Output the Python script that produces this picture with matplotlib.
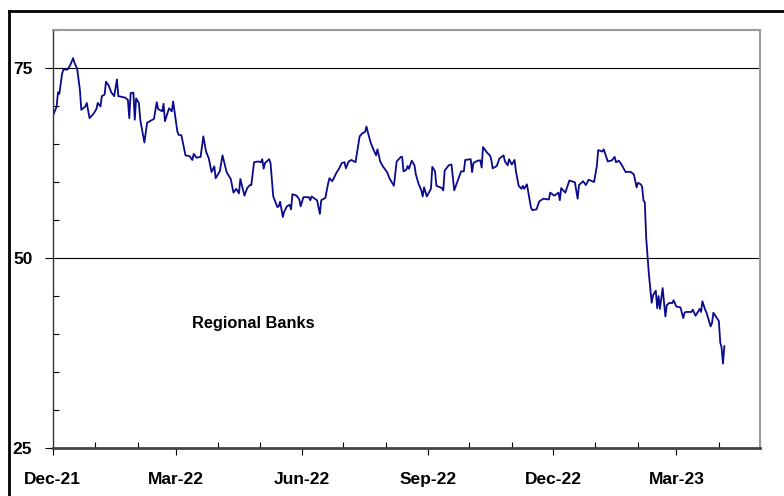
import datetime as dt

import matplotlib
matplotlib.use("Agg")
import matplotlib.pyplot as plt
import matplotlib.dates as mdates
from matplotlib.lines import Line2D
from matplotlib.ticker import MultipleLocator

plt.rcParams['font.family'] = ['Liberation Sans', 'DejaVu Sans']

# index level
dates = [
  "2021-12-01", "2021-12-04", "2021-12-05", "2021-12-06", "2021-12-08", "2021-12-09",
  "2021-12-12", "2021-12-14", "2021-12-16", "2021-12-17", "2021-12-19", "2021-12-21",
  "2021-12-22", "2021-12-25", "2021-12-26", "2021-12-28", "2021-12-31", "2022-01-02",
  "2022-01-03", "2022-01-05", "2022-01-06", "2022-01-08", "2022-01-09", "2022-01-11",
  "2022-01-13", "2022-01-15", "2022-01-17", "2022-01-18", "2022-01-23", "2022-01-25",
  "2022-01-26", "2022-01-27", "2022-01-29", "2022-01-30", "2022-01-31", "2022-02-02",
  "2022-02-03", "2022-02-06", "2022-02-08", "2022-02-10", "2022-02-13", "2022-02-15",
  "2022-02-16", "2022-02-19", "2022-02-20", "2022-02-21", "2022-02-24", "2022-02-26",
  "2022-02-27", "2022-03-02", "2022-03-03", "2022-03-05", "2022-03-08", "2022-03-11",
  "2022-03-13", "2022-03-14", "2022-03-16", "2022-03-19", "2022-03-21", "2022-03-23",
  "2022-03-25", "2022-03-27", "2022-03-29", "2022-03-30", "2022-04-02", "2022-04-04",
  "2022-04-07", "2022-04-10", "2022-04-12", "2022-04-14", "2022-04-16", "2022-04-17",
  "2022-04-20", "2022-04-22", "2022-04-24", "2022-04-25", "2022-04-27", "2022-04-30",
  "2022-05-02", "2022-05-03", "2022-05-04", "2022-05-05", "2022-05-08", "2022-05-09",
  "2022-05-11", "2022-05-14", "2022-05-15", "2022-05-16", "2022-05-18", "2022-05-19",
  "2022-05-21", "2022-05-23", "2022-05-24", "2022-05-25", "2022-05-28", "2022-05-30",
  "2022-05-31", "2022-06-02", "2022-06-06", "2022-06-07", "2022-06-08", "2022-06-11",
  "2022-06-12", "2022-06-14", "2022-06-15", "2022-06-18", "2022-06-20", "2022-06-21",
  "2022-06-23", "2022-06-25", "2022-06-26", "2022-06-28", "2022-06-30", "2022-07-02",
  "2022-07-03", "2022-07-05", "2022-07-07", "2022-07-10", "2022-07-13", "2022-07-15",
  "2022-07-17", "2022-07-18", "2022-07-19", "2022-07-21", "2022-07-23", "2022-07-25",
  "2022-07-26", "2022-07-28", "2022-07-30", "2022-08-02", "2022-08-04", "2022-08-07",
  "2022-08-09", "2022-08-12", "2022-08-13", "2022-08-14", "2022-08-16", "2022-08-17",
  "2022-08-18", "2022-08-20", "2022-08-22", "2022-08-23", "2022-08-25", "2022-08-27",
  "2022-08-28", "2022-08-29", "2022-08-31", "2022-09-03", "2022-09-04", "2022-09-06",
  "2022-09-07", "2022-09-11", "2022-09-12", "2022-09-13", "2022-09-16", "2022-09-18",
  "2022-09-20", "2022-09-22", "2022-09-25", "2022-09-27", "2022-09-28", "2022-10-02",
  "2022-10-03", "2022-10-04", "2022-10-07", "2022-10-09", "2022-10-10", "2022-10-11",
  "2022-10-14", "2022-10-16", "2022-10-17", "2022-10-18", "2022-10-21", "2022-10-23",
  "2022-10-26", "2022-10-27", "2022-10-29", "2022-10-30", "2022-11-01", "2022-11-03",
  "2022-11-04", "2022-11-06", "2022-11-08", "2022-11-09", "2022-11-10", "2022-11-12",
  "2022-11-15", "2022-11-16", "2022-11-19", "2022-11-21", "2022-11-24", "2022-11-28",
  "2022-11-29", "2022-12-02", "2022-12-05", "2022-12-06", "2022-12-07", "2022-12-10",
  "2022-12-13", "2022-12-17", "2022-12-19", "2022-12-20", "2022-12-23", "2022-12-25",
  "2022-12-27", "2022-12-31", "2023-01-02", "2023-01-03", "2023-01-06", "2023-01-07",
  "2023-01-10", "2023-01-13", "2023-01-15", "2023-01-16", "2023-01-18", "2023-01-20",
  "2023-01-23", "2023-01-25", "2023-01-27", "2023-01-29", "2023-01-31", "2023-02-01",
  "2023-02-03", "2023-02-04", "2023-02-05", "2023-02-06", "2023-02-07", "2023-02-09",
  "2023-02-11", "2023-02-12", "2023-02-14", "2023-02-15", "2023-02-16", "2023-02-17",
  "2023-02-19", "2023-02-21", "2023-02-22", "2023-02-24", "2023-02-26", "2023-02-27",
  "2023-03-01", "2023-03-04", "2023-03-06", "2023-03-07", "2023-03-08", "2023-03-12",
  "2023-03-13", "2023-03-15", "2023-03-18", "2023-03-19", "2023-03-20", "2023-03-22",
  "2023-03-23", "2023-03-26", "2023-03-27", "2023-03-28", "2023-04-01", "2023-04-02",
  "2023-04-03", "2023-04-04", "2023-04-05",
]
values = [
  68.6, 69.9, 71.8, 71.6, 74.25, 74.8,
  74.8, 75.4, 76.3, 75.7, 74.9, 72.1,
  69.5, 69.95, 70.4, 68.4, 69.0, 69.6,
  70.4, 69.95, 71.3, 71.5, 73.2, 72.7,
  71.75, 71.3, 73.5, 71.3, 71.1, 70.8,
  68.4, 71.7, 71.75, 68.2, 71.0, 70.4,
  68.2, 65.2, 67.8, 68.0, 68.3, 70.5,
  69.6, 69.3, 70.3, 68.0, 69.7, 69.3,
  70.6, 66.7, 66.2, 66.15, 63.5, 63.4,
  62.9, 63.7, 63.2, 63.3, 66.0, 64.0,
  63.1, 61.3, 62.05, 60.5, 61.4, 63.5,
  61.3, 60.4, 58.6, 59.1, 58.5, 60.4,
  58.2, 59.2, 59.6, 59.6, 62.6, 62.7,
  62.6, 63.0, 61.75, 62.5, 63.0, 62.5,
  58.1, 56.7, 56.8, 57.4, 55.4, 56.1,
  56.8, 57.0, 56.4, 58.4, 58.2, 57.7,
  56.8, 58.0, 58.0, 57.6, 58.1, 57.7,
  57.6, 55.8, 57.6, 57.9, 59.8, 60.5,
  60.1, 60.8, 61.2, 61.75, 62.5, 62.6,
  61.8, 62.7, 62.9, 62.6, 66.0, 66.4,
  66.6, 67.3, 66.55, 65.2, 64.3, 63.5,
  64.3, 62.7, 62.05, 61.3, 60.4, 59.5,
  62.7, 63.3, 63.3, 61.4, 61.6, 62.1,
  61.75, 62.8, 62.2, 61.0, 59.75, 58.9,
  58.1, 59.3, 58.1, 59.1, 62.0, 61.4,
  59.5, 59.2, 58.9, 61.5, 62.2, 62.3,
  58.9, 59.9, 61.4, 61.4, 62.9, 63.0,
  61.3, 62.5, 62.8, 62.85, 61.9, 64.6,
  63.85, 63.5, 63.0, 61.8, 62.1, 63.1,
  63.5, 62.7, 62.2, 63.0, 62.3, 62.9,
  61.4, 59.5, 59.1, 59.5, 59.1, 59.7,
  56.6, 56.3, 56.4, 57.45, 57.8, 57.7,
  58.6, 58.2, 58.6, 57.6, 59.2, 58.6,
  60.2, 59.95, 57.8, 59.6, 60.1, 59.6,
  60.3, 60.0, 62.1, 64.2, 64.0, 64.3,
  62.7, 62.85, 63.3, 62.6, 62.8, 62.3,
  61.3, 61.35, 61.3, 61.0, 59.3, 59.9,
  59.7, 59.4, 57.6, 57.3, 52.6, 47.8,
  44.1, 45.1, 45.7, 43.4, 45.0, 43.3,
  46.05, 42.3, 43.8, 44.1, 44.05, 44.45,
  43.6, 43.5, 42.1, 42.8, 42.9, 42.9,
  43.2, 42.4, 43.3, 42.9, 44.3, 43.2,
  42.8, 41.0, 41.45, 42.8, 41.7, 38.9,
  38.2, 36.1, 38.4,
]

x_start = dt.date(2021, 12, 1)
x_end = dt.date(2023, 5, 1)
label_text = "Regional Banks"
label_date = dt.date(2022, 3, 13)
label_value = 41.35

xs = [dt.datetime.strptime(d, "%Y-%m-%d").date() for d in dates]

fig = plt.figure(figsize=(7.84, 4.96), dpi=100)
ax = fig.add_axes([52.5/784, 1 - 448/496, (760 - 52.5)/784, (448 - 30)/496])

ax.plot(xs, values, color="#0a0a8c", lw=1.3)

# horizontal rules at major ticks
for yv in (50, 75):
  ax.axhline(yv, color="black", lw=0.8, zorder=1)

ax.set_xlim(x_start, x_end)
ax.set_ylim(25, 80)

ax.yaxis.set_major_locator(MultipleLocator(25))
ax.yaxis.set_minor_locator(MultipleLocator(5))
ax.xaxis.set_major_locator(mdates.MonthLocator(bymonth=[3, 6, 9, 12]))
ax.xaxis.set_minor_locator(mdates.MonthLocator())
ax.xaxis.set_major_formatter(mdates.DateFormatter("%b-%y"))

ax.tick_params(axis="y", which="major", direction="out", length=6, width=0.8,
               pad=8.5, labelsize=12.5)
ax.tick_params(axis="y", which="minor", direction="in", length=4, width=0.8)
ax.tick_params(axis="x", which="major", direction="out", length=5, width=0.8,
               pad=12, labelsize=12.5)
ax.tick_params(axis="x", which="minor", direction="in", length=4, width=0.8)
for lab in ax.get_xticklabels() + ax.get_yticklabels():
  lab.set_fontweight("bold")

ax.spines["top"].set_color("#9a9a9a")
ax.spines["right"].set_color("#9a9a9a")
ax.spines["top"].set_linewidth(1.5)
ax.spines["right"].set_linewidth(1.5)
ax.spines["bottom"].set_color("#444444")
ax.spines["bottom"].set_linewidth(2)
ax.spines["left"].set_color("#333333")
ax.spines["left"].set_linewidth(1)

ax.text(label_date, label_value, label_text, ha="left", va="center",
        fontsize=11.8, fontweight="bold")

# outer frame, only top and left edges visible
fig.add_artist(Line2D([9/784, 1.0], [1 - 11/496, 1 - 11/496],
                      transform=fig.transFigure, color="black", lw=2))
fig.add_artist(Line2D([9/784, 9/784], [1 - 11/496, 0.0],
                      transform=fig.transFigure, color="black", lw=2))

fig.savefig("out.png", dpi=100)
